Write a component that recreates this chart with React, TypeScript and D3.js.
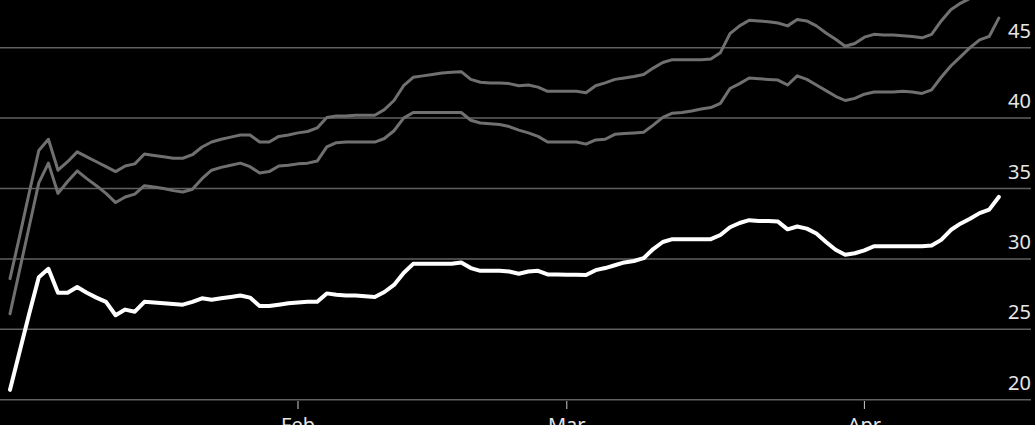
import React from 'react';
import * as d3 from 'd3';

// daily values starting 2021-01-02
const startDate = '2021-01-02';

const upperSeries = [
  28.6, 31.6, 34.7, 37.7, 38.5, 36.3, 36.9, 37.6, 37.25, 36.9,
  36.55, 36.2, 36.6, 36.75, 37.45, 37.35, 37.25, 37.15, 37.15, 37.4,
  37.95, 38.3, 38.5, 38.65, 38.8, 38.8, 38.3, 38.3, 38.7, 38.8,
  38.95, 39.05, 39.3, 40.05, 40.15, 40.15, 40.2, 40.2, 40.2, 40.6,
  41.25, 42.3, 42.9, 43.0, 43.1, 43.2, 43.25, 43.3, 42.75, 42.55,
  42.5, 42.5, 42.45, 42.3, 42.35, 42.2, 41.9, 41.9, 41.9, 41.9,
  41.8, 42.3, 42.5, 42.75, 42.85, 42.95, 43.1, 43.55, 43.95, 44.15,
  44.15, 44.15, 44.15, 44.2, 44.65, 46.0, 46.55, 46.95, 46.9, 46.85,
  46.75, 46.55, 47.0, 46.9, 46.55, 46.05, 45.6, 45.1, 45.3, 45.75,
  45.95, 45.9, 45.9, 45.85, 45.8, 45.7, 45.95, 46.9, 47.7, 48.15,
  48.5, 48.85, 49.15, 50.2,
];

const middleSeries = [
  26.1, 29.2, 32.3, 35.4, 36.8, 34.65, 35.5, 36.25, 35.7, 35.2,
  34.65, 34.0, 34.4, 34.6, 35.2, 35.1, 35.0, 34.85, 34.75, 34.95,
  35.7, 36.3, 36.5, 36.65, 36.8, 36.55, 36.1, 36.2, 36.6, 36.65,
  36.75, 36.8, 36.95, 37.95, 38.25, 38.3, 38.3, 38.3, 38.3, 38.55,
  39.1, 40.0, 40.4, 40.4, 40.4, 40.4, 40.4, 40.4, 39.85, 39.65,
  39.6, 39.55, 39.4, 39.15, 38.95, 38.7, 38.3, 38.3, 38.3, 38.3,
  38.15, 38.45, 38.5, 38.85, 38.9, 38.95, 39.0, 39.5, 40.05, 40.35,
  40.4, 40.5, 40.65, 40.75, 41.05, 42.1, 42.45, 42.85, 42.8, 42.75,
  42.7, 42.35, 43.0, 42.75, 42.35, 41.95, 41.55, 41.25, 41.4, 41.7,
  41.85, 41.85, 41.85, 41.9, 41.85, 41.75, 42.0, 42.9, 43.7, 44.35,
  45.0, 45.55, 45.8, 47.1,
];

const mainSeries = [
  20.7, 23.4, 26.1, 28.7, 29.3, 27.6, 27.6, 28.0, 27.6, 27.25,
  26.95, 26.0, 26.4, 26.25, 26.95, 26.9, 26.85, 26.8, 26.75, 26.95,
  27.2, 27.1, 27.2, 27.3, 27.4, 27.25, 26.65, 26.65, 26.75, 26.85,
  26.9, 26.95, 26.95, 27.55, 27.45, 27.4, 27.4, 27.35, 27.3, 27.65,
  28.15, 29.0, 29.65, 29.65, 29.65, 29.65, 29.65, 29.75, 29.35, 29.15,
  29.15, 29.15, 29.1, 28.95, 29.1, 29.15, 28.9, 28.9, 28.88, 28.87,
  28.85, 29.2, 29.35, 29.55, 29.75, 29.85, 30.05, 30.7, 31.2, 31.4,
  31.4, 31.4, 31.4, 31.4, 31.7, 32.25, 32.55, 32.75, 32.7, 32.7,
  32.65, 32.1, 32.3, 32.15, 31.8, 31.2, 30.65, 30.3, 30.4, 30.6,
  30.9, 30.9, 30.9, 30.9, 30.9, 30.9, 30.95, 31.35, 32.05, 32.5,
  32.85, 33.25, 33.5, 34.4,
];

const yTicks = [20, 25, 30, 35, 40, 45];
const monthTicks = ['2021-02-01', '2021-03-01', '2021-04-01'];

const width = 1035;
const height = 425;

export default function App() {
  const parse = d3.utcParse('%Y-%m-%d');
  const start = parse(startDate) as Date;

  const x = d3.scaleUtc()
    .domain([parse('2021-01-01') as Date, parse('2021-04-01') as Date])
    .range([0.4, 864.4]);

  const y = d3.scaleLinear()
    .domain([20, 45])
    .range([399.7, 47.7]);

  const line = d3.line<number>()
    .x((d, i) => x(d3.utcDay.offset(start, i)))
    .y(d => y(d));

  const fmt = d3.utcFormat('%b');

  const series = [
    { values: upperSeries, color: '#707070', w: 3 },
    { values: middleSeries, color: '#707070', w: 3 },
    { values: mainSeries, color: '#ffffff', w: 4 },
  ];

  return (
    <svg
      width={width}
      height={height}
      style={{ position: 'absolute', left: 0, top: 0, display: 'block' }}
      fontFamily="'Noto Sans', sans-serif"
    >
      <rect width={width} height={height} fill="#000" />

      {yTicks.map(t => (
        <g key={t}>
          <line x1={0} x2={1031} y1={y(t)} y2={y(t)} stroke="#606060" strokeWidth={1.5} />
          <text x={1031} y={y(t) - 10} textAnchor="end" fontSize={20} fill="#e6e6e6">{t}</text>
        </g>
      ))}

      {monthTicks.map(m => {
        const px = x(parse(m) as Date);
        return (
          <g key={m}>
            <line x1={px} x2={px} y1={401} y2={409} stroke="#cccccc" strokeWidth={1} />
            <text x={px} y={432} textAnchor="middle" fontSize={20} fill="#e6e6e6">{fmt(parse(m) as Date)}</text>
          </g>
        );
      })}

      {series.map((s, i) => (
        <path
          key={i}
          d={line(s.values) || ''}
          fill="none"
          stroke={s.color}
          strokeWidth={s.w}
          strokeLinejoin="round"
          strokeLinecap="round"
        />
      ))}
    </svg>
  );
}
